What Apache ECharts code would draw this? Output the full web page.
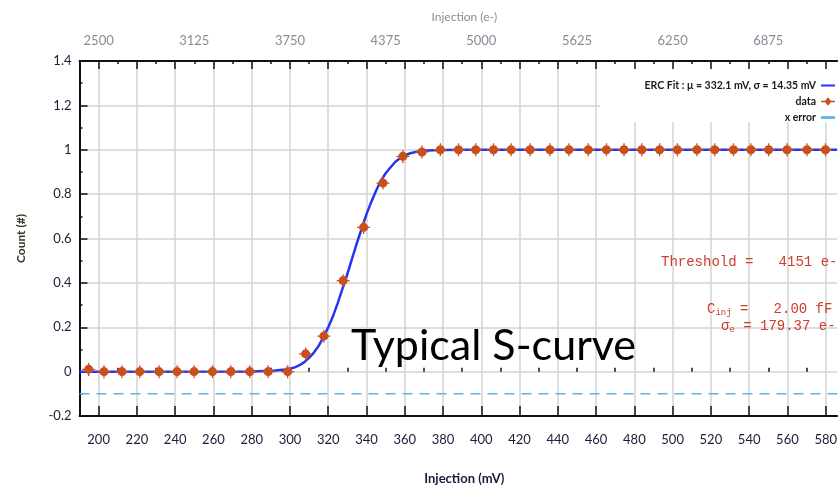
<!DOCTYPE html>
<html>
<head>
<meta charset="utf-8">
<script src="https://cdn.jsdelivr.net/npm/echarts@6/dist/echarts.min.js"></script>
<style>
  html, body { margin: 0; padding: 0; background: #ffffff; }
  #chart { width: 840px; height: 490px; }
</style>
</head>
<body>
<div id="chart"></div>
<script>
// Injection scan: measured hit fraction per injected charge step (mV)
const injectionMv = [194.8, 202.8, 212.2, 221.5, 231.6, 241.0, 249.9, 259.5, 269.1, 279.0,
  288.6, 298.8, 308.2, 317.7, 327.8, 338.5, 348.6, 359.0, 369.0, 378.6,
  388.1, 397.1, 406.4, 415.6, 425.5, 435.9, 445.8, 455.9, 465.4, 474.6,
  483.9, 493.2, 502.5, 512.7, 522.0, 531.8, 540.9, 550.2, 559.8, 570.2, 579.9];
const countFrac = [0.01, 0, 0, 0, 0, 0, 0, 0, 0, 0,
  0, 0, 0.08, 0.16, 0.41, 0.65, 0.85, 0.97, 0.99, 1,
  1, 1, 1, 1, 1, 1, 1, 1, 1, 1,
  1, 1, 1, 1, 1, 1, 1, 1, 1, 1, 1];

// Error-function fit curve, sampled along the injection axis
const fitMv = [190, 280, 290, 292.5, 295, 297.5, 300, 302.5, 305, 307.5, 310, 312.5, 315, 317.5,
  320, 322.5, 325, 327.5, 330, 332.5, 335, 337.5, 340, 342.5, 345, 347.5, 350, 352.5,
  355, 357.5, 360, 362.5, 365, 367.5, 370, 375, 380, 390, 586];
const fitCount = [0, 0.001, 0.004, 0.005, 0.0075, 0.01, 0.013, 0.019, 0.029, 0.043, 0.062, 0.086, 0.116, 0.155,
  0.2, 0.25, 0.31, 0.375, 0.44, 0.51, 0.58, 0.645, 0.71, 0.765, 0.815, 0.86, 0.894, 0.92,
  0.945, 0.962, 0.974, 0.983, 0.989, 0.993, 0.996, 0.998, 0.999, 1, 1];

// Horizontal x-error reference line
const xErrorMv = [190, 586];
const xErrorCount = [-0.1, -0.1];

// Axis ranges and tick positions
const X_MIN = 190, X_MAX = 586;
const E_PER_MV = 12.5; // 2.00 fF injection capacitance
const majorTicksMv = [200, 220, 240, 260, 280, 300, 320, 340, 360, 380, 400, 420, 440, 460, 480, 500, 520, 540, 560, 580];
const minorTicksMv = [190, 210, 230, 250, 270, 290, 310, 330, 350, 370, 390, 410, 430, 450, 470, 490, 510, 530, 550, 570];
const bottomLabelsMv = [200, 220, 240, 260, 280, 300, 320, 340, 360, 380, 400, 420, 440, 460, 480, 500, 520, 540, 560, 580];
const topLabelsE = [2500, 3125, 3750, 4375, 5000, 5625, 6250, 6875];

const seriesNames = ['ERC Fit : \u03bc = 332.1 mV, \u03c3 = 14.35 mV', 'data', 'x error'];

const FONT = 'Lato, "Liberation Sans", sans-serif';
const MONO = '"Liberation Mono", "DejaVu Sans Mono", monospace';
const FRAME = '#111111';
// round marker with short cross bars
const markerPath = 'path://M3,10 A7,7 0 1,1 17,10 A7,7 0 1,1 3,10 Z M9,0 L11,0 L11,20 L9,20 Z M0,9 L20,9 L20,11 L0,11 Z';

const chart = echarts.init(document.getElementById('chart'), null, { renderer: 'canvas' });

const toE = v => v * E_PER_MV;
const plain = v => String(v);

const option = {
  backgroundColor: '#ffffff',
  animation: false,
  grid: { left: 79.5, right: 0, top: 61, bottom: 70, containLabel: false },
  legend: {
    orient: 'vertical',
    right: 0,
    top: 75,
    align: 'right',
    itemGap: 5,
    itemWidth: 14,
    itemHeight: 11,
    textStyle: { fontFamily: FONT, fontSize: 10.5, fontWeight: 'bold', color: '#1a1a1a' },
    data: [
      { name: seriesNames[0], icon: 'path://M0,4 L14,4 L14,6 L0,6 Z' },
      { name: seriesNames[1], icon: 'path://M0,9 L20,9 L20,11 L0,11 Z M10,4 L15,10 L10,16 L5,10 Z' },
      { name: seriesNames[2], icon: 'path://M0,4 L10,4 L10,6 L0,6 Z' }
    ]
  },
  xAxis: [
    {
      type: 'value', position: 'bottom', min: X_MIN, max: X_MAX, z: 0,
      name: 'Injection (mV)', nameLocation: 'middle', nameGap: 56,
      nameTextStyle: { fontFamily: FONT, fontSize: 13, fontWeight: 'bold', color: '#1c1c3a', padding: [0, 0, 0, 12] },
      axisLine: { show: true, onZero: false, lineStyle: { color: FRAME, width: 2 } },
      axisTick: { show: true, inside: true, length: 10, customValues: majorTicksMv, lineStyle: { color: FRAME, width: 1.5 } },
      axisLabel: { customValues: bottomLabelsMv, formatter: plain, margin: 17, fontFamily: FONT, fontSize: 13, color: '#1c1c3a' },
      splitLine: { show: true, lineStyle: { color: '#d3d3d3', width: 1.5 } }
    },
    {
      type: 'value', position: 'bottom', min: X_MIN, max: X_MAX, z: 3,
      axisLine: { show: false },
      axisTick: { show: true, inside: true, length: 4, customValues: minorTicksMv, lineStyle: { color: FRAME, width: 1.5 } },
      axisLabel: { show: false },
      splitLine: { show: false }
    },
    {
      type: 'value', position: 'top', min: toE(X_MIN), max: toE(X_MAX), z: 3,
      name: 'Injection (e-)', nameLocation: 'middle', nameGap: 38,
      nameTextStyle: { fontFamily: FONT, fontSize: 12, color: '#8a8a96', padding: [0, 0, 0, 12] },
      axisLine: { show: true, onZero: false, lineStyle: { color: FRAME, width: 2 } },
      axisTick: { show: true, inside: true, length: 8, customValues: majorTicksMv.map(toE), lineStyle: { color: FRAME, width: 1.5 } },
      axisLabel: { customValues: topLabelsE, formatter: plain, margin: 14, fontFamily: FONT, fontSize: 13, color: '#8a8a96' },
      splitLine: { show: false }
    },
    {
      type: 'value', position: 'top', min: toE(X_MIN), max: toE(X_MAX), z: 3,
      axisLine: { show: false },
      axisTick: { show: true, inside: true, length: 3, customValues: minorTicksMv.map(toE), lineStyle: { color: FRAME, width: 1.5 } },
      axisLabel: { show: false },
      splitLine: { show: false }
    }
  ],
  yAxis: [
    {
      type: 'value', min: -0.2, max: 1.4, interval: 0.2, z: 0,
      name: 'Count (#)', nameLocation: 'middle', nameGap: 52,
      nameTextStyle: { fontFamily: FONT, fontSize: 12, fontWeight: 'bold', color: '#3a3320' },
      axisLine: { show: true, onZero: false, lineStyle: { color: FRAME, width: 2 } },
      axisTick: { show: true, inside: true, length: 8, lineStyle: { color: FRAME, width: 1.5 } },
      minorTick: { show: true, splitNumber: 2, length: 3, lineStyle: { color: FRAME, width: 1.5 } },
      axisLabel: { margin: 8, fontFamily: FONT, fontSize: 13, color: '#1c1c3a' },
      splitLine: { show: true, lineStyle: { color: '#d3d3d3', width: 1.5 } }
    }
  ],
  graphic: [
    // white panel behind the legend
    { type: 'rect', z: 1, shape: { x: 600, y: 62, width: 240, height: 60 }, style: { fill: '#ffffff' } },
    { type: 'text', z: 5, left: 661, top: 255,
      style: { text: 'Threshold =   4151 e-', font: '14px ' + MONO, fill: '#cf3b2c' } },
    { type: 'text', z: 5, left: 707, top: 302,
      style: {
        text: 'C{s|inj} =   2.00 fF', font: '14px ' + MONO, fill: '#cf3b2c',
        rich: { s: { font: '9px ' + MONO, fill: '#cf3b2c', padding: [8, 0, 0, 0] } }
      } },
    { type: 'text', z: 5, left: 721, top: 319,
      style: {
        text: '\u03c3{s|e} = 179.37 e-', font: '14px ' + MONO, fill: '#cf3b2c',
        rich: { s: { font: '9px ' + MONO, fill: '#cf3b2c', padding: [8, 0, 0, 0] } }
      } },
    { type: 'text', z: 5, left: 351, top: 325,
      style: { text: 'Typical S-curve', font: '43px Lato, "Open Sans", sans-serif', fill: '#000000' } }
  ],
  series: [
    {
      name: seriesNames[0], type: 'line', xAxisIndex: 0, yAxisIndex: 0, z: 3,
      data: fitMv.map((x, i) => [x, fitCount[i]]),
      smooth: false, showSymbol: false, symbol: 'none',
      lineStyle: { color: '#2436f2', width: 2.5, join: 'round' }, itemStyle: { color: '#2436f2' }
    },
    {
      name: seriesNames[1], type: 'scatter', xAxisIndex: 0, yAxisIndex: 0, z: 4,
      data: injectionMv.map((x, i) => [x, countFrac[i]]),
      symbol: markerPath, symbolSize: 13,
      itemStyle: { color: '#c8501c', opacity: 1 }
    },
    {
      name: seriesNames[2], type: 'line', xAxisIndex: 0, yAxisIndex: 0, z: 2,
      data: xErrorMv.map((x, i) => [x, xErrorCount[i]]),
      showSymbol: false, symbol: 'none',
      lineStyle: { color: '#5cb6ee', width: 1.5, type: [10, 7] }, itemStyle: { color: '#5cb6ee' }
    }
  ]
};

chart.setOption(option);
</script>
</body>
</html>
